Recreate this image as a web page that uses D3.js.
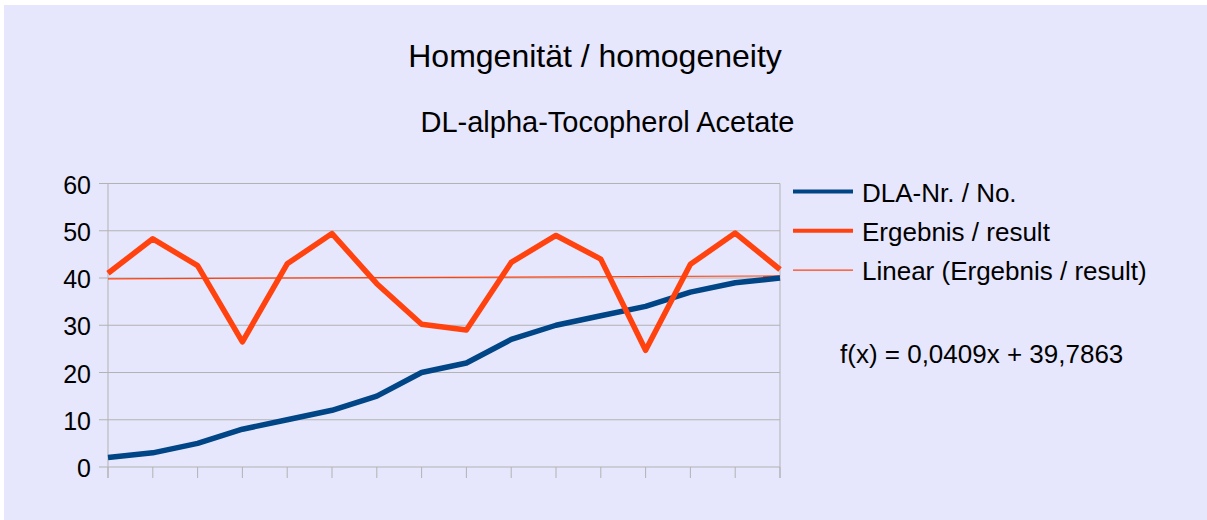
<!DOCTYPE html>
<html>
<head>
<meta charset="utf-8">
<script src="https://cdn.jsdelivr.net/npm/d3@7"></script>
<style>
  body { margin: 0; background: #fff; }
  text { font-family: "Liberation Sans", Arial, sans-serif; fill: #000; }
</style>
</head>
<body>
<svg id="chart"></svg>
<script>
const width = 1207, height = 520;

// data
const samples = d3.range(1, 17);
const dlaNo = [2, 3, 5, 8, 10, 12, 15, 20, 22, 27, 30, 32, 34, 37, 39, 40];
const result = [41, 48.3, 42.6, 26.5, 43, 49.4, 38.8, 30.2, 29, 43.3, 49, 44, 24.7, 42.9, 49.5, 41.8];
const trend = [0.0409, 39.7863]; // slope, intercept as printed
const yTicks = [0, 10, 20, 30, 40, 50, 60];
const seriesNames = ["DLA-Nr. / No.", "Ergebnis / result", "Linear (Ergebnis / result)"];

const blue = "#004586", orange = "#ff420e", grid = "#b3b3b3";

let svg = d3.select("svg#chart").attr("width", width).attr("height", height);

svg.append("rect")
    .attr("x", 4).attr("y", 5)
    .attr("width", width - 4).attr("height", height - 5)
    .attr("fill", "#e6e6fc");

let x = d3.scaleLinear().domain([1, 16]).range([108, 780]);
let y = d3.scaleLinear().domain([0, 60]).range([467, 183.5]);

// grid
svg.selectAll(".grid")
    .data(yTicks)
    .enter()
    .append("line")
    .attr("x1", 99).attr("x2", 780)
    .attr("y1", (d) => y(d)).attr("y2", (d) => y(d))
    .attr("stroke", grid).attr("stroke-width", 1);

// axis lines
svg.append("line").attr("x1", x(1)).attr("x2", x(1)).attr("y1", y(60)).attr("y2", y(0) + 11)
    .attr("stroke", grid);
svg.append("line").attr("x1", x(16)).attr("x2", x(16)).attr("y1", y(60)).attr("y2", y(0) + 11)
    .attr("stroke", grid);
svg.selectAll(".xtick")
    .data(samples)
    .enter()
    .append("line")
    .attr("x1", (d) => x(d)).attr("x2", (d) => x(d))
    .attr("y1", y(0)).attr("y2", y(0) + 11)
    .attr("stroke", grid);

svg.selectAll(".ylab")
    .data(yTicks)
    .enter()
    .append("text")
    .attr("x", 91)
    .attr("y", (d) => y(d) + 10)
    .attr("text-anchor", "end")
    .style("font-size", "25px")
    .text((d) => d);

// trend line
svg.append("line")
    .attr("x1", x(1)).attr("x2", x(16))
    .attr("y1", y(trend[0] * 1 + trend[1]))
    .attr("y2", y(trend[0] * 16 + trend[1]))
    .attr("stroke", orange).attr("stroke-width", 1.2);

let line = d3.line()
    .x((d, i) => x(samples[i]))
    .y((d) => y(d));

svg.append("path").datum(dlaNo)
    .attr("d", line)
    .attr("fill", "none").attr("stroke", blue)
    .attr("stroke-width", 5.5).attr("stroke-linejoin", "round");

svg.append("path").datum(result)
    .attr("d", line)
    .attr("fill", "none").attr("stroke", orange)
    .attr("stroke-width", 5.5).attr("stroke-linejoin", "round");

// titles
svg.append("text").attr("x", 595).attr("y", 67).attr("text-anchor", "middle")
    .style("font-size", "32px").text("Homgenität / homogeneity");
svg.append("text").attr("x", 607.5).attr("y", 132).attr("text-anchor", "middle")
    .style("font-size", "29px").text("DL-alpha-Tocopherol Acetate");

// legend
let legend = svg.selectAll(".legend")
    .data(seriesNames)
    .enter()
    .append("g")
    .attr("transform", (d, i) => `translate(793, ${191.5 + i * 39.3})`);
legend.append("line")
    .attr("x1", 0).attr("x2", 60)
    .attr("stroke", (d, i) => (i === 0 ? blue : orange))
    .attr("stroke-width", (d, i) => (i === 2 ? 1.2 : 4));
legend.append("text")
    .attr("x", 69).attr("y", 10)
    .style("font-size", "26px")
    .text((d) => d);

svg.append("text").attr("x", 840).attr("y", 363)
    .style("font-size", "26px")
    .text("f(x) = " + String(trend[0]).replace(".", ",") + "x + " + String(trend[1]).replace(".", ","));
</script>
</body>
</html>
